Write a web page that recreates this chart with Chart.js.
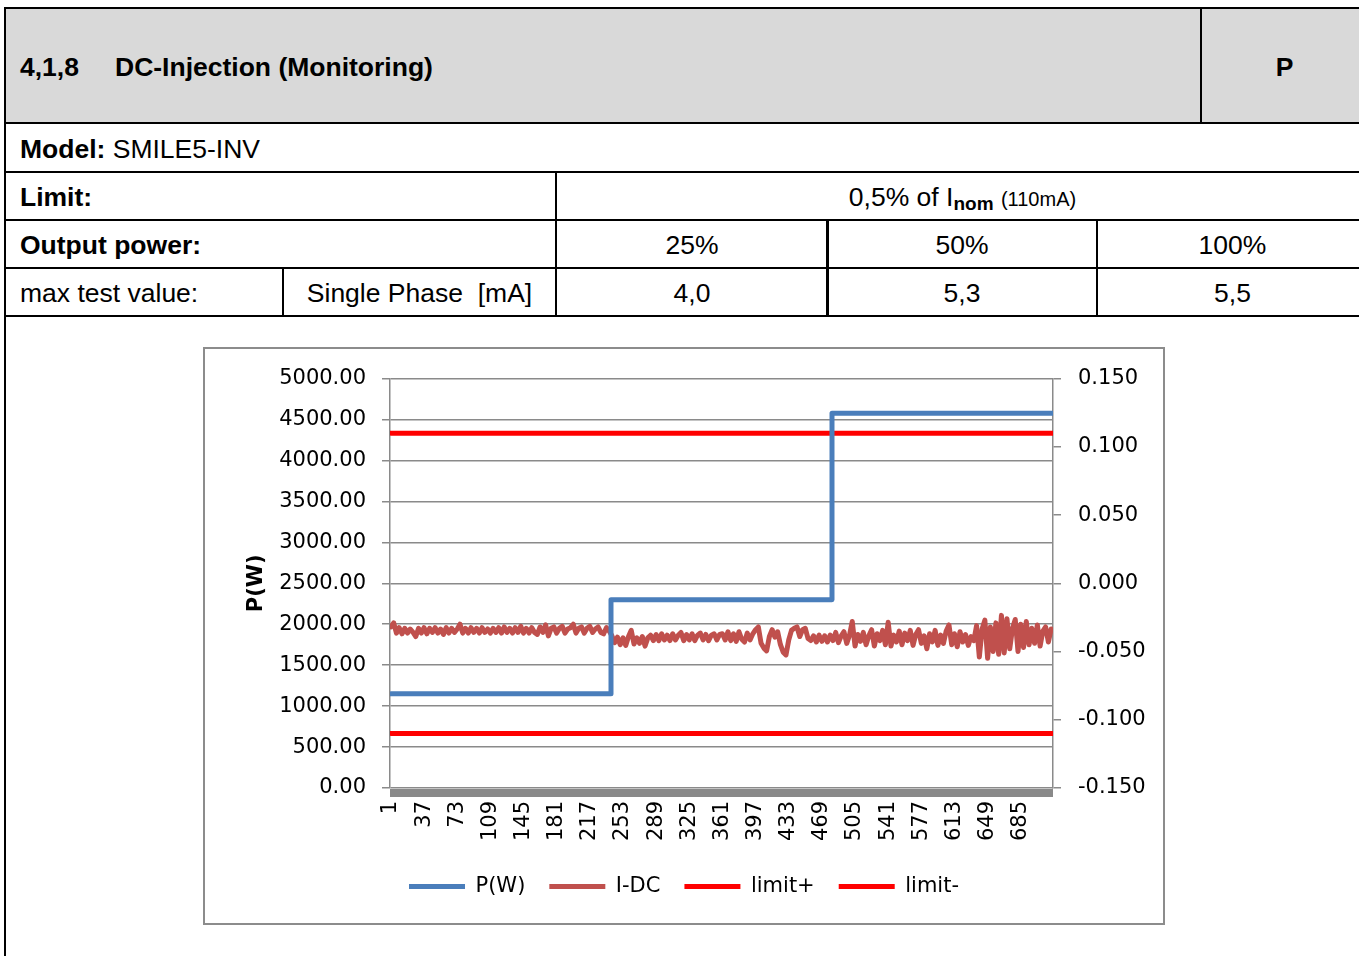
<!DOCTYPE html>
<html>
<head>
<meta charset="utf-8">
<script src="https://cdn.jsdelivr.net/npm/chart.js@4.4.1/dist/chart.umd.min.js"></script>
<style>
  html, body { margin: 0; padding: 0; background: #fff; }
  body { width: 1359px; height: 956px; overflow: hidden; position: relative;
         font-family: "Liberation Sans", Arial, sans-serif; font-size: 26.5px; color: #000; }
  .cell { position: absolute; box-sizing: border-box; border: 2px solid #000; padding-top: 3px;
          display: flex; align-items: center; white-space: nowrap; }
  .c { justify-content: center; }
  .l { padding-left: 14px; }
  .hdr { background: #d9d9d9; font-weight: bold; }
  .vline { position: absolute; background: #000; width: 2px; }
  #chartBox { position: absolute; left: 203px; top: 347px; width: 962px; height: 578px;
              box-sizing: border-box; border: 2px solid #8c8c8c; background: #fff; }
  #chartBox canvas { display: block; }
</style>
</head>
<body>
  <!-- report table -->
  <div class="cell hdr l" style="left:4px;top:7px;width:1198px;height:117px;">
    <span><span style="display:inline-block;width:95px;">4,1,8</span>DC-Injection (Monitoring)</span>
  </div>
  <div class="cell hdr c" style="left:1200px;top:7px;width:169px;height:117px;">P</div>

  <div class="cell l" style="left:4px;top:122px;width:1366px;height:51px;"><span><b>Model:</b> SMILE5-INV</span></div>

  <div class="cell l" style="left:4px;top:171px;width:553px;height:50px;"><b>Limit:</b></div>
  <div class="cell c" style="left:555px;top:171px;width:815px;height:50px;">
    <span>0,5% of I<span style="font-weight:bold;font-size:19px;position:relative;top:4px;">nom</span> <span style="font-size:20px;">(110mA)</span></span>
  </div>

  <div class="cell l" style="left:4px;top:219px;width:553px;height:50px;"><b>Output power:</b></div>
  <div class="cell c" style="left:555px;top:219px;width:274px;height:50px;">25%</div>
  <div class="cell c" style="left:826px;top:219px;width:272px;height:50px;">50%</div>
  <div class="cell c" style="left:1096px;top:219px;width:273px;height:50px;">100%</div>

  <div class="cell l" style="left:4px;top:267px;width:280px;height:50px;">max test value:</div>
  <div class="cell c" style="left:282px;top:267px;width:275px;height:50px;">Single Phase&nbsp;&nbsp;[mA]</div>
  <div class="cell c" style="left:555px;top:267px;width:274px;height:50px;">4,0</div>
  <div class="cell c" style="left:826px;top:267px;width:272px;height:50px;">5,3</div>
  <div class="cell c" style="left:1096px;top:267px;width:273px;height:50px;">5,5</div>

  <div class="vline" style="left:4px;top:316px;height:640px;"></div>

  <div id="chartBox"><canvas id="dcChart" width="958" height="574"></canvas></div>

<script>
// ------------------------------------------------
// DC-injection monitoring: P(W) on the left axis,
// I-DC and the +/- limits (A) on the right axis.
// ------------------------------------------------

// P(W) — three power steps (25%, 50%, 100%)
const pwSamples = [1, 240, 240, 480, 480, 720];
const pwValues = [1150, 1150, 2300, 2298, 4578, 4578];

const idcStep = 3;
const idcValues = [
  -0.0320, -0.0290, -0.0365, -0.0325, -0.0370, -0.0330, -0.0365, -0.0335, -0.0360, -0.0390,
  -0.0330, -0.0365, -0.0325, -0.0370, -0.0330, -0.0360, -0.0325, -0.0365, -0.0335, -0.0375,
  -0.0325, -0.0365, -0.0330, -0.0360, -0.0335, -0.0300, -0.0365, -0.0330, -0.0365, -0.0325,
  -0.0360, -0.0330, -0.0365, -0.0325, -0.0360, -0.0335, -0.0365, -0.0330, -0.0360, -0.0325,
  -0.0365, -0.0320, -0.0360, -0.0330, -0.0365, -0.0325, -0.0360, -0.0315, -0.0365, -0.0330,
  -0.0365, -0.0325, -0.0360, -0.0375, -0.0320, -0.0360, -0.0305, -0.0385, -0.0330, -0.0320,
  -0.0365, -0.0330, -0.0315, -0.0365, -0.0335, -0.0325, -0.0300, -0.0365, -0.0330, -0.0320,
  -0.0365, -0.0330, -0.0315, -0.0360, -0.0335, -0.0320, -0.0360, -0.0370, -0.0325, -0.0350,
  -0.0385, -0.0435, -0.0395, -0.0450, -0.0400, -0.0455, -0.0390, -0.0345, -0.0445, -0.0400,
  -0.0440, -0.0390, -0.0460, -0.0400, -0.0380, -0.0420, -0.0375, -0.0420, -0.0370, -0.0415,
  -0.0380, -0.0420, -0.0370, -0.0415, -0.0380, -0.0360, -0.0420, -0.0375, -0.0415, -0.0370,
  -0.0420, -0.0380, -0.0365, -0.0415, -0.0375, -0.0420, -0.0380, -0.0370, -0.0415, -0.0375,
  -0.0370, -0.0415, -0.0355, -0.0420, -0.0370, -0.0425, -0.0355, -0.0410, -0.0430, -0.0365,
  -0.0415, -0.0370, -0.0340, -0.0320, -0.0440, -0.0475, -0.0495, -0.0390, -0.0340, -0.0395,
  -0.0355, -0.0450, -0.0505, -0.0525, -0.0415, -0.0345, -0.0330, -0.0320, -0.0390, -0.0340,
  -0.0330, -0.0405, -0.0420, -0.0385, -0.0430, -0.0380, -0.0425, -0.0385, -0.0430, -0.0380,
  -0.0420, -0.0360, -0.0435, -0.0385, -0.0355, -0.0440, -0.0380, -0.0280, -0.0460, -0.0375,
  -0.0425, -0.0360, -0.0450, -0.0385, -0.0340, -0.0460, -0.0370, -0.0420, -0.0345, -0.0450,
  -0.0285, -0.0460, -0.0380, -0.0430, -0.0350, -0.0450, -0.0365, -0.0420, -0.0345, -0.0455,
  -0.0375, -0.0340, -0.0440, -0.0385, -0.0480, -0.0370, -0.0430, -0.0345, -0.0455, -0.0380,
  -0.0440, -0.0350, -0.0305, -0.0450, -0.0370, -0.0465, -0.0355, -0.0430, -0.0375, -0.0455,
  -0.0390, -0.0420, -0.0310, -0.0540, -0.0335, -0.0270, -0.0550, -0.0320, -0.0500, -0.0290,
  -0.0520, -0.0235, -0.0510, -0.0260, -0.0480, -0.0330, -0.0265, -0.0500, -0.0300, -0.0470,
  -0.0280, -0.0450, -0.0330, -0.0440, -0.0305, -0.0460, -0.0350, -0.0320, -0.0430, -0.0335
];

// limits [A]
const limitSamples = [1, 720];
const limitPlus = [0.110, 0.110];
const limitMinus = [-0.110, -0.110];

// axis ticks
const xTicks = [1, 37, 73, 109, 145, 181, 217, 253, 289, 325, 361, 397, 433, 469, 505, 541, 577, 613, 649, 685];
const powerTicks = [0, 500, 1000, 1500, 2000, 2500, 3000, 3500, 4000, 4500, 5000];
const currentTicks = [-0.150, -0.100, -0.050, 0.000, 0.050, 0.100, 0.150];

const GRID = '#8a8a8a';
const TICK_FONT = { family: "'DejaVu Sans', sans-serif", size: 21 };

Chart.defaults.font.family = "'DejaVu Sans', sans-serif";
Chart.defaults.color = '#000';

const pairs = (xs, ys) => ys.map((y, i) => ({ x: xs[i], y }));

// thick grey band under the category axis
const axisBand = {
  id: 'axisBand',
  beforeDatasetsDraw(chart) {
    const { ctx, chartArea } = chart;
    ctx.save();
    ctx.fillStyle = '#898989';
    ctx.fillRect(chartArea.left, chartArea.bottom + 1, chartArea.right - chartArea.left, 8);
    ctx.restore();
  }
};

const lineDefaults = {
  pointRadius: 0,
  borderWidth: 5,
  borderCapStyle: 'round',
  borderJoinStyle: 'round',
  tension: 0,
  fill: false
};

new Chart(document.getElementById('dcChart'), {
  type: 'line',
  data: {
    datasets: [
      { ...lineDefaults, label: 'P(W)', data: pairs(pwSamples, pwValues),
        borderColor: '#4a7ebb', backgroundColor: '#4a7ebb', yAxisID: 'y' },
      { ...lineDefaults, label: 'I-DC',
        data: idcValues.map((v, i) => ({ x: 1 + i * idcStep, y: v })),
        borderColor: '#c0504d', backgroundColor: '#c0504d', yAxisID: 'y2' },
      { ...lineDefaults, label: 'limit+', data: pairs(limitSamples, limitPlus),
        borderColor: '#ff0000', backgroundColor: '#ff0000', yAxisID: 'y2' },
      { ...lineDefaults, label: 'limit-', data: pairs(limitSamples, limitMinus),
        borderColor: '#ff0000', backgroundColor: '#ff0000', yAxisID: 'y2' }
    ]
  },
  options: {
    responsive: false,
    animation: false,
    layout: { padding: { top: 28, left: 0, right: 0, bottom: 16 } },
    plugins: {
      tooltip: { enabled: false },
      legend: {
        position: 'bottom',
        labels: {
          usePointStyle: true,
          pointStyle: 'line',
          pointStyleWidth: 56,
          padding: 24,
          color: '#000',
          font: TICK_FONT
        }
      }
    },
    scales: {
      x: {
        type: 'linear',
        position: 'bottom',
        min: 0,
        max: 720,
        afterBuildTicks: s => { s.ticks = xTicks.map(v => ({ value: v })); },
        afterFit: s => { s.height = 64; },
        grid: { display: false },
        border: { display: false },
        ticks: { autoSkip: false, minRotation: 90, maxRotation: 90, padding: 5, font: TICK_FONT, color: '#000' }
      },
      y: {
        position: 'left',
        min: 0,
        max: 5000,
        afterBuildTicks: s => { s.ticks = powerTicks.map(v => ({ value: v })); },
        afterFit: s => { s.width = 185; },
        grid: { color: GRID, lineWidth: 1.5, tickLength: 8 },
        border: { color: GRID, width: 1.5 },
        ticks: { padding: 16, font: TICK_FONT, color: '#000', callback: v => v.toFixed(2) },
        title: {
          display: true,
          text: 'P(W)',
          color: '#000',
          font: { family: "'DejaVu Sans', sans-serif", size: 21, weight: 'bold' },
          padding: { top: 39, bottom: 0 }
        }
      },
      y2: {
        position: 'right',
        min: -0.15,
        max: 0.15,
        afterBuildTicks: s => { s.ticks = currentTicks.map(v => ({ value: v })); },
        afterFit: s => { s.width = 110; },
        grid: { drawOnChartArea: false, color: GRID, lineWidth: 1.5, tickLength: 8 },
        border: { color: GRID, width: 1.5 },
        ticks: { padding: 17, font: TICK_FONT, color: '#000',
                 callback: v => (Math.abs(v) < 1e-9 ? 0 : v).toFixed(3) }
      }
    }
  },
  plugins: [axisBand]
});
</script>
</body>
</html>
